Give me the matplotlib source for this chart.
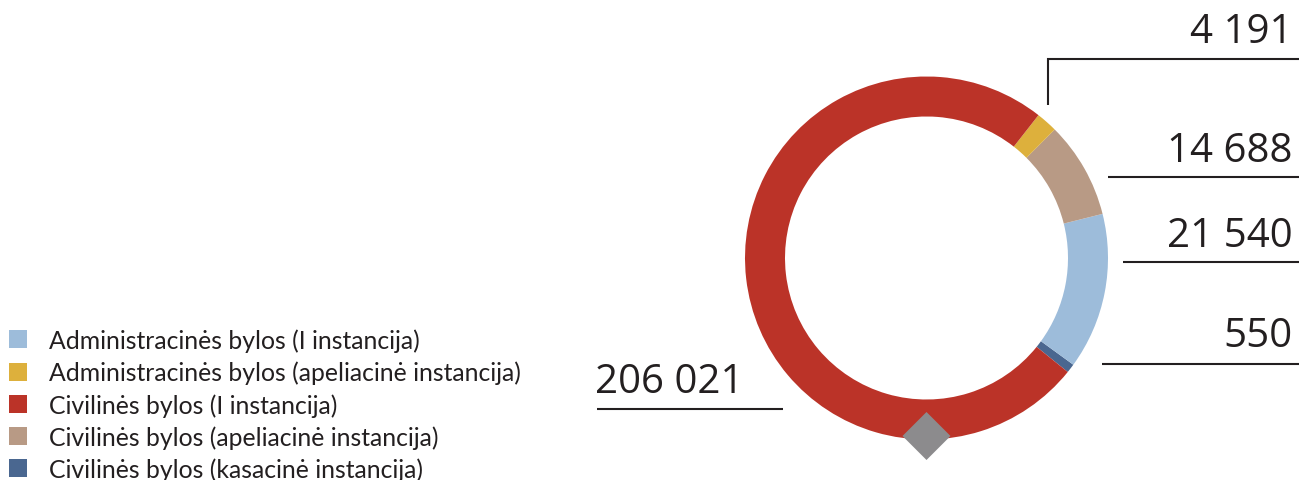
import matplotlib
matplotlib.use("Agg")
import matplotlib.pyplot as plt
from matplotlib.patches import Patch, RegularPolygon
import numpy as np

# categories in legend order
categories = [
    "Administracinės bylos (I instancija)",
    "Administracinės bylos (apeliacinė instancija)",
    "Civilinės bylos (I instancija)",
    "Civilinės bylos (apeliacinė instancija)",
    "Civilinės bylos (kasacinė instancija)",
]
values = [21540, 4191, 206021, 14688, 550]
# ring shares as drawn in the original (%), not proportional to values
shares = [13.9, 1.9, 74.7, 8.6, 0.8]
colors = ["#9dbcda", "#ddb03c", "#bb3328", "#b89a85", "#4a6790"]
# counter-clockwise drawing order, starting at the red / dark-blue seam
ring_order = [4, 0, 3, 1, 2]

W, H = 1299, 481
CX, CY, R = 926.5, H - 259, 181.5
INK = "#231f20"

fig = plt.figure(figsize=(W / 100, H / 100), dpi=100)
ax = fig.add_axes([0, 0, 1, 1])

ax.pie([shares[i] for i in ring_order], colors=[colors[i] for i in ring_order],
       startangle=-38.9, counterclock=True, center=(CX, CY), radius=R,
       wedgeprops=dict(width=40, linewidth=0))
ax.set_xlim(0, W)
ax.set_ylim(0, H)
ax.set_aspect("equal")
ax.axis("off")

# grey diamond at the bottom of the ring
ax.add_patch(RegularPolygon((CX, CY - 178), 4, radius=24, color="#8c8b8d", lw=0))

def fmt(v):
    return f"{v:,}".replace(",", " ")

num_font = dict(family="Open Sans", fontsize=29, color=INK, va="baseline")

# value callouts: (index, text baseline y px, line y px, line start x px)
callouts = [(3, 161.7, 178, 1108), (0, 246.7, 263, 1123), (4, 346.7, 365, 1102)]
for i, base, ly, lx in callouts:
    ax.text(1293, H - base, fmt(values[i]), ha="right", **num_font)
    ax.plot([lx, W], [H - ly, H - ly], color=INK, lw=1.5, solid_capstyle="butt")

# yellow slice: elbow leader
ax.text(1293, H - 43.3, fmt(values[1]), ha="right", **num_font)
ax.plot([1048, 1048, W], [H - 106, H - 60, H - 60], color=INK, lw=1.5,
        solid_capstyle="butt", solid_joinstyle="miter")

# red slice on the left
ax.text(595, H - 393, fmt(values[2]), ha="left", **num_font)
ax.plot([597, 783], [H - 410, H - 410], color=INK, lw=1.5, solid_capstyle="butt")

handles = [Patch(facecolor=c, edgecolor="none") for c in colors]
ax.legend(handles, categories, loc="lower left", bbox_to_anchor=(9 / W, -1 / H),
          frameon=False, prop=dict(family="Lato", size=17.8), labelcolor=INK,
          handlelength=0.73, handleheight=0.73, handletextpad=0.88,
          labelspacing=0.35, borderpad=0, borderaxespad=0)

fig.savefig("out.png", dpi=100)
